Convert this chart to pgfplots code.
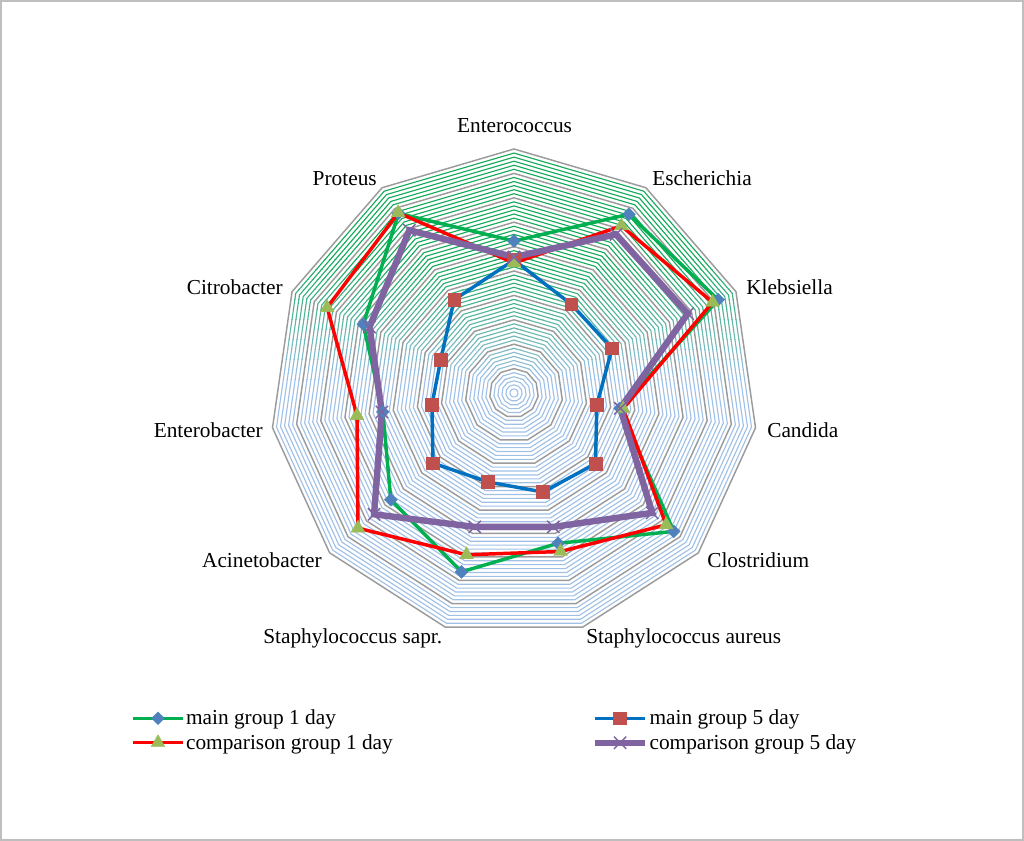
\documentclass[border=0pt]{standalone}
\usepackage{fontspec}
\setmainfont{Liberation Serif}
\usepackage{pgfplots}
\usepgfplotslibrary{polar}
\pgfplotsset{compat=1.18}
\usepackage{pgfplotstable}

\definecolor{framegray}{RGB}{190,190,190}
\definecolor{majorgray}{RGB}{155,155,155}
\definecolor{gridgreen}{RGB}{20,170,90}
\definecolor{gridblue}{RGB}{160,192,230}
\definecolor{lgreen}{RGB}{0,176,80}
\definecolor{lred}{RGB}{255,0,0}
\definecolor{lblue}{RGB}{0,112,192}
\definecolor{lpurple}{RGB}{128,100,162}
\definecolor{mdiam}{RGB}{79,129,189}
\definecolor{msq}{RGB}{192,80,77}
\definecolor{mtri}{RGB}{155,187,89}

% angle of each category, then the four series
\pgfplotstableread{
ang      main1 main5 comp1 comp5
90       6.23  5.45  5.33  5.57
57.2727  8.71  4.33  8.14  7.73
24.5455  9.20  4.42  8.95  7.83
351.8182 4.39  3.43  4.52  4.40
319.0909 8.66  4.42  8.25  7.50
286.3636 6.42  4.23  6.77  5.72
253.6364 7.64  3.80  6.91  5.72
220.9091 6.68  4.39  8.46  7.59
188.1818 5.43  3.40  6.50  5.47
155.4545 6.79  3.30  8.42  6.51
122.7273 8.75  4.54  8.78  7.93
90       6.23  5.45  5.33  5.57
}\radar

\def\unit{18.3}
\def\minorgrid{%
  \foreach \k in {1,...,59}{%
    \pgfmathtruncatemacro\m{mod(\k,6)}%
    \ifnum\m>0
      \pgfmathsetmacro\R{\k*\unit/6}%
      \draw[line width=0.85pt, gridc] (90:\R pt)
        \foreach \j [evaluate=\j as \a using 90-\j*360/11] in {1,...,10}{ -- (\a:\R pt)} -- cycle;
    \fi
  }%
}

\begin{document}
\begin{tikzpicture}[font=\fontsize{16}{19}\selectfont]
\useasboundingbox (0,0) rectangle (768pt,-630.75pt);
\draw[framegray, line width=1.2pt] (0.6pt,-0.6pt) rectangle (767.4pt,-630.15pt);

% polygon grid, minor lines fade from green (top) to light blue
\begin{scope}[shift={(385.5pt,-294.75pt)}]
  \begin{scope}
    \clip (-200pt,99.75pt) rectangle (200pt,200pt);
    \colorlet{gridc}{gridgreen}
    \minorgrid
  \end{scope}
  \foreach \i in {0,...,11}{
    \pgfmathsetmacro\yt{99.75-7.5*\i}
    \pgfmathsetmacro\yb{\yt-7.5}
    \pgfmathsetmacro\mixv{100-(\i+0.5)*100/12}
    \begin{scope}
      \clip (-200pt,\yt pt) rectangle (200pt,\yb pt);
      \colorlet{gridc}{gridgreen!\mixv!gridblue}
      \minorgrid
    \end{scope}
  }
  \begin{scope}
    \clip (-200pt,9.75pt) rectangle (200pt,-200pt);
    \colorlet{gridc}{gridblue}
    \minorgrid
  \end{scope}
  \foreach \k in {1,...,10}{
    \pgfmathsetmacro\R{\k*\unit}
    \draw[majorgray, line width=1.1pt] (90:\R pt)
      \foreach \j [evaluate=\j as \a using 90-\j*360/11] in {1,...,10}{ -- (\a:\R pt)} -- cycle;
  }
\end{scope}

\begin{polaraxis}[
  at={(385.5pt,-294.75pt)}, anchor=origin,
  width=366pt, height=366pt, scale only axis,
  hide axis, clip=false,
  xmin=0, xmax=360, ymin=0, ymax=10,
  legend columns=2,
  legend cell align=left,
  legend style={at={(-0.293,-0.1916)}, anchor=west, draw=none, fill=none,
    font=\fontsize{16}{19}\selectfont,
    nodes={inner sep=1pt}, row sep=3.75pt,
    /tikz/every even column/.append style={column sep=148.25pt}},
  legend image code/.code={%
    \draw[mark repeat=2,mark phase=2,#1] plot coordinates {(0pt,0pt) (18.75pt,0pt) (37.5pt,0pt)};},
]
\addplot[color=lgreen, line width=2.6pt, mark=square*, mark size=3.4pt,
  mark options={solid, rotate=45, fill=mdiam, draw=mdiam, line width=0.3pt}]
  table[x=ang, y=main1] {\radar};
\addplot[color=lblue, line width=2.6pt, mark=square*, mark size=4.8pt,
  mark options={solid, fill=msq, draw=msq, line width=0.3pt}]
  table[x=ang, y=main5] {\radar};
\addplot[color=lred, line width=2.6pt, mark=triangle*, mark size=6pt,
  mark options={solid, fill=mtri, draw=mtri, line width=0.3pt}]
  table[x=ang, y=comp1] {\radar};
\addplot[color=lpurple, line width=4.8pt, mark=x, mark size=6.5pt,
  mark options={solid, draw=lpurple, line width=1.1pt}]
  table[x=ang, y=comp5] {\radar};
\legend{main group 1 day, main group 5 day, comparison group 1 day, comparison group 5 day}
\end{polaraxis}

% category labels, positions in pixels of the reference
\begin{scope}[x=0.75pt, y=-0.75pt, every node/.style={inner sep=0pt}]
  \node[anchor=base] at (514.5,133) {Enterococcus};
  \node[anchor=base] at (702,186) {Escherichia};
  \node[anchor=base west] at (746,295) {Klebsiella};
  \node[anchor=base west] at (767,437) {Candida};
  \node[anchor=base west] at (707,567) {Clostridium};
  \node[anchor=base west] at (586,643) {Staphylococcus aureus};
  \node[anchor=base west] at (263,643) {Staphylococcus sapr.};
  \node[anchor=base east] at (322,567) {Acinetobacter};
  \node[anchor=base east] at (263,437) {Enterobacter};
  \node[anchor=base east] at (283,295) {Citrobacter};
  \node[anchor=base east] at (377,186) {Proteus};
\end{scope}
\end{tikzpicture}
\end{document}
